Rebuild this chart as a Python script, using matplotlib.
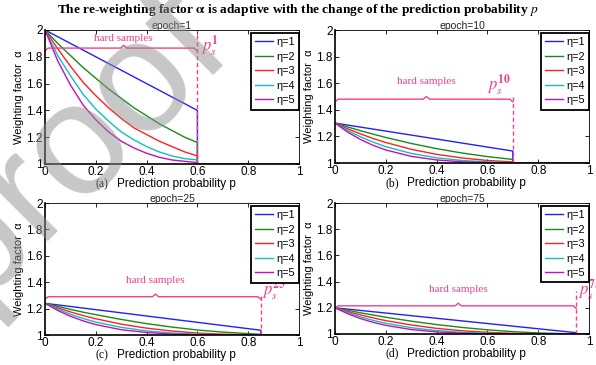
import matplotlib
matplotlib.use('Agg')
import matplotlib.pyplot as plt
import numpy as np

# values: p grid and alpha per eta, for each epoch
epochs = [1, 10, 25, 75]
p_split = [0.6, 0.7, 0.85, 0.95]
letters = ['(a)', '(b)', '(c)', '(d)']

p_e1 = [0, 0.05, 0.1, 0.15, 0.2, 0.25, 0.3, 0.35, 0.4, 0.45, 0.5, 0.55, 0.6]
a_e1 = [
    [2.00, 1.95, 1.90, 1.85, 1.80, 1.75, 1.70, 1.65, 1.60, 1.55, 1.50, 1.45, 1.40],
    [2.00, 1.90, 1.81, 1.72, 1.64, 1.56, 1.49, 1.42, 1.36, 1.30, 1.25, 1.20, 1.16],
    [2.00, 1.86, 1.73, 1.61, 1.51, 1.42, 1.34, 1.27, 1.22, 1.17, 1.13, 1.09, 1.06],
    [2.00, 1.81, 1.66, 1.52, 1.41, 1.32, 1.24, 1.18, 1.13, 1.09, 1.06, 1.04, 1.03],
    [2.00, 1.77, 1.59, 1.44, 1.33, 1.24, 1.17, 1.12, 1.08, 1.05, 1.03, 1.02, 1.01],
]

p_e10 = [0, 0.05, 0.1, 0.15, 0.2, 0.3, 0.4, 0.5, 0.6, 0.7]
a_e10 = [
    [1.300, 1.285, 1.270, 1.255, 1.240, 1.210, 1.180, 1.150, 1.120, 1.090],
    [1.300, 1.271, 1.243, 1.217, 1.192, 1.147, 1.108, 1.075, 1.048, 1.027],
    [1.300, 1.257, 1.219, 1.184, 1.154, 1.103, 1.065, 1.038, 1.019, 1.008],
    [1.300, 1.244, 1.197, 1.157, 1.123, 1.072, 1.039, 1.019, 1.008, 1.002],
    [1.300, 1.232, 1.177, 1.133, 1.098, 1.050, 1.023, 1.009, 1.003, 1.001],
]

p_e25 = [0, 0.05, 0.1, 0.15, 0.2, 0.3, 0.4, 0.5, 0.6, 0.7, 0.85]
a_e25 = [
    [1.240, 1.228, 1.216, 1.204, 1.192, 1.168, 1.144, 1.120, 1.096, 1.072, 1.036],
    [1.240, 1.217, 1.194, 1.173, 1.154, 1.118, 1.086, 1.060, 1.038, 1.022, 1.005],
    [1.240, 1.206, 1.175, 1.147, 1.123, 1.082, 1.052, 1.030, 1.015, 1.006, 1.001],
    [1.240, 1.196, 1.157, 1.125, 1.098, 1.058, 1.031, 1.015, 1.006, 1.002, 1.000],
    [1.240, 1.186, 1.142, 1.107, 1.079, 1.040, 1.019, 1.007, 1.002, 1.001, 1.000],
]

p_e75 = [0, 0.05, 0.1, 0.15, 0.2, 0.3, 0.4, 0.5, 0.6, 0.7, 0.8, 0.95]
a_e75 = [
    [1.200, 1.190, 1.180, 1.170, 1.160, 1.140, 1.120, 1.100, 1.080, 1.060, 1.040, 1.010],
    [1.200, 1.181, 1.162, 1.145, 1.128, 1.098, 1.072, 1.050, 1.032, 1.018, 1.008, 1.000],
    [1.200, 1.171, 1.146, 1.123, 1.102, 1.069, 1.043, 1.025, 1.013, 1.005, 1.002, 1.000],
    [1.200, 1.163, 1.131, 1.104, 1.082, 1.048, 1.026, 1.013, 1.005, 1.002, 1.000, 1.000],
    [1.200, 1.155, 1.118, 1.089, 1.066, 1.034, 1.016, 1.006, 1.002, 1.000, 1.000, 1.000],
]

p_all = [p_e1, p_e10, p_e25, p_e75]
a_all = [a_e1, a_e10, a_e25, a_e75]
eta_labels = ['\u03b7=1', '\u03b7=2', '\u03b7=3', '\u03b7=4', '\u03b7=5']

# bracket level, label text height, dashed line top, ps label position
brace_y = [1.865, 1.48, 1.29, 1.215]
text_y = [1.935, 1.61, 1.41, 1.34]
dash_top = [2.0, 1.5, 1.3, 1.33]
ps_xy = [(0.615, 1.78), (0.695, 1.49), (0.855, 1.24), (0.955, 1.24)]
ps_ha = ['left', 'right', 'left', 'left']

colors = ['#2020ff', '#1a8a1a', '#ff2020', '#10c0c0', '#c010c0']
pink = '#f0408a'

sans = 'Liberation Sans'
serif = 'Liberation Serif'
plt.rcParams['mathtext.fontset'] = 'stix'

fig = plt.figure(figsize=(5.96, 3.65), dpi=100)
boxes = [
    [45 / 596, 1 - 164 / 365, 254 / 596, 134 / 365],
    [335 / 596, 1 - 163 / 365, 254 / 596, 133 / 365],
    [45 / 596, 1 - 335 / 365, 254 / 596, 132 / 365],
    [335 / 596, 1 - 334 / 365, 254 / 596, 131 / 365],
]

for i, box in enumerate(boxes):
    ax = fig.add_axes(box)
    ps = p_split[i]
    for k in range(5):
        x = p_all[i] + [ps, 1.0]
        y = a_all[i][k] + [1.0, 1.0]
        ax.plot(x, y, color=colors[k], lw=1.0, label=eta_labels[k])
    ax.set_xlim(0, 1)
    ax.set_ylim(1, 2)
    ax.set_xticks(np.arange(0, 1.01, 0.2))
    ax.set_xticklabels(['0', '0.2', '0.4', '0.6', '0.8', '1'])
    ax.set_yticks(np.arange(1, 2.01, 0.2))
    ax.set_yticklabels(['1', '1.2', '1.4', '1.6', '1.8', '2'])
    ax.tick_params(direction='in', top=True, right=True, length=3, width=0.6,
                   labelsize=8.5, pad=1.5)
    for lab in ax.get_xticklabels() + ax.get_yticklabels():
        lab.set_fontfamily(sans)
    for s in ['bottom', 'left']:
        ax.spines[s].set_linewidth(1.2)
    for s in ['top', 'right']:
        ax.spines[s].set_linewidth(0.6)
    ax.set_ylabel('Weighting factor  \u03b1', fontsize=8, family=sans, labelpad=2)
    ax.set_title('epoch=%d' % epochs[i], fontsize=7.5, family=sans, pad=0.5, color='#222222')
    ax.text(0.25, -0.15, letters[i], transform=ax.transAxes, fontsize=8.5,
            family=serif, ha='right', va='center')
    ax.text(0.285, -0.15, 'Prediction probability p', transform=ax.transAxes,
            fontsize=8.5, family=sans, ha='left', va='center')

    leg = ax.legend(loc='upper right', bbox_to_anchor=(1.0, 0.98),
                    prop={'family': sans, 'size': 7.8}, handlelength=1.7,
                    handletextpad=0.25, labelspacing=0.42, borderpad=0.4,
                    borderaxespad=0, fancybox=False, framealpha=1)
    leg.get_frame().set_edgecolor('black')
    leg.get_frame().set_linewidth(1.3)

    # hard samples brace
    by = brace_y[i]
    xm = ps / 2 + 0.01
    d = 0.02
    e = 0.012
    ax.plot([0.0, e, xm - e, xm, xm + e, ps - e, ps],
            [by - d, by, by, by + d, by, by, by - d], color=pink, lw=1.0,
            solid_joinstyle='round')
    ax.text(xm, text_y[i], 'hard samples', color=pink, fontsize=8,
            family=serif, ha='center', va='center')
    ax.plot([ps, ps], [1.0, dash_top[i]], color=pink, lw=1.0, ls=(0, (3, 2)))
    ax.text(ps_xy[i][0], ps_xy[i][1], r'$\mathbf{\mathit{p}_{\mathit{s}}^{%d}}$' % epochs[i],
            color=pink, fontsize=12, ha=ps_ha[i], va='bottom', clip_on=False)

fig.text(0.5, 0.972,
         r'The re-weighting factor $\mathbf{\alpha}$ is adaptive with the change of the prediction probability $\mathbf{\mathit{p}}$',
         ha='center', va='center', fontsize=9.6, family=serif, weight='bold')

# journal watermark
fig.text(236 / 596, 1 - 54 / 365, 'Journal Pre-proof', rotation=45, fontsize=115,
         family=sans, color='#909090', alpha=0.5, ha='right', va='baseline',
         rotation_mode='anchor', zorder=10)

fig.savefig('out.png', dpi=100)
